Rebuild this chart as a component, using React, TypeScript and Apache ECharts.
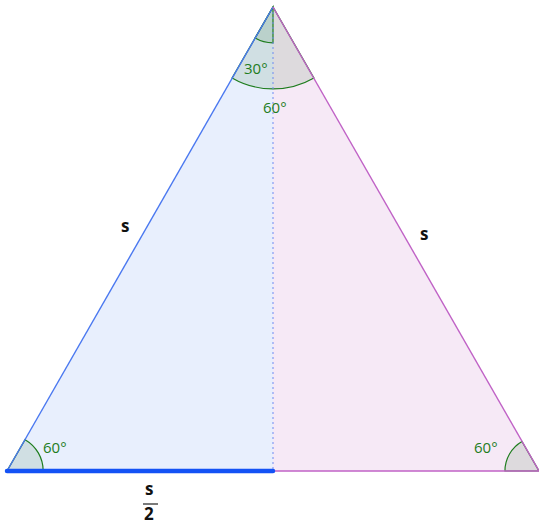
import React, { useEffect, useRef } from "react";
import * as echarts from "echarts";

// Triangle vertices in data units (side s = 2)
const apex = [0, 1.732];
const baseLeft = [-1, 0];
const baseRight = [1, 0];
const foot = [0, 0];

// Angle marks: centres, radii (data units), start/end angles (deg, screen coordinates)
const angleCenters = [apex, apex, baseLeft, baseRight];
const angleRadii = [0.308, 0.135, 0.136, 0.128];
const angleStart = [60, 90, 300, 180];
const angleEnd = [120, 120, 360, 240];

// Labels
const angleLabels = ["60°", "30°", "60°", "60°"];
const sideLabel = "s";
const halfLabelTop = "s";
const halfLabelBottom = "2";

const GREEN = "#1e7d1e";
const ARC_FILL = "rgba(0,90,0,0.1)";

export default function App() {
  const ref = useRef<HTMLDivElement>(null);
  useEffect(() => {
    if (!ref.current) return;
    const chart = echarts.init(ref.current, null, { renderer: "svg" });
    const font = "'Open Sans', 'DejaVu Sans', sans-serif";
    chart.setOption({
      animation: false,
      grid: { left: 7, right: 0, top: 7, bottom: 58, containLabel: false },
      xAxis: { type: "value", min: -1, max: 1, show: false },
      yAxis: { type: "value", min: 0, max: 1.732, show: false },
      series: [
        {
          type: "custom",
          coordinateSystem: "cartesian2d",
          data: [[0, 0]],
          clip: false,
          z: 1,
          renderItem: (params: any, api: any) => {
            const A = api.coord(apex);
            const L = api.coord(baseLeft);
            const R = api.coord(baseRight);
            const F = api.coord(foot);
            const children: any[] = [];
            children.push({
              type: "polygon",
              shape: { points: [A, L, F] },
              style: { fill: "#e8effd", stroke: "none" },
            });
            children.push({
              type: "polygon",
              shape: { points: [A, F, R] },
              style: { fill: "#f6e9f6", stroke: "none" },
            });
            angleCenters.forEach((c, i) => {
              const p = api.coord(c);
              const r = api.size([angleRadii[i], 0])[0];
              children.push({
                type: "sector",
                shape: {
                  cx: p[0],
                  cy: p[1],
                  r0: 0,
                  r,
                  startAngle: (angleStart[i] * Math.PI) / 180,
                  endAngle: (angleEnd[i] * Math.PI) / 180,
                  clockwise: true,
                },
                style: { fill: ARC_FILL, stroke: GREEN, lineWidth: 1.2 },
              });
            });
            children.push({
              type: "line",
              shape: { x1: A[0], y1: A[1], x2: F[0], y2: F[1] },
              style: { stroke: "#6f8bf0", lineWidth: 1, lineDash: [2, 3] },
            });
            children.push({
              type: "line",
              shape: { x1: A[0], y1: A[1], x2: L[0], y2: L[1] },
              style: { stroke: "#4a78f0", lineWidth: 1.4 },
            });
            children.push({
              type: "line",
              shape: { x1: A[0], y1: A[1], x2: R[0], y2: R[1] },
              style: { stroke: "#c062c6", lineWidth: 1.4 },
            });
            children.push({
              type: "line",
              shape: { x1: F[0], y1: F[1], x2: R[0], y2: R[1] },
              style: { stroke: "#c062c6", lineWidth: 1.4 },
            });
            children.push({
              type: "line",
              shape: { x1: L[0], y1: L[1], x2: F[0], y2: F[1] },
              style: { stroke: "#1452f5", lineWidth: 4.5, lineCap: "round" },
            });
            return { type: "group", children };
          },
        },
      ],
      graphic: [
        { type: "text", z: 100, left: 263, top: 99, style: { text: angleLabels[0], fill: GREEN, font: `15px ${font}` } },
        { type: "text", z: 100, left: 244, top: 60, style: { text: angleLabels[1], fill: GREEN, font: `15px ${font}` } },
        { type: "text", z: 100, left: 43, top: 439, style: { text: angleLabels[2], fill: GREEN, font: `15px ${font}` } },
        { type: "text", z: 100, left: 474, top: 439, style: { text: angleLabels[3], fill: GREEN, font: `15px ${font}` } },
        { type: "text", z: 100, left: 121, top: 217, style: { text: sideLabel, fill: "#111", font: `bold 17px ${font}` } },
        { type: "text", z: 100, left: 420, top: 225, style: { text: sideLabel, fill: "#111", font: `bold 17px ${font}` } },
        { type: "text", z: 100, left: 145, top: 480, style: { text: halfLabelTop, fill: "#111", font: `bold 17px ${font}` } },
        { type: "line", z: 100, shape: { x1: 143, y1: 504, x2: 158, y2: 504 }, style: { stroke: "#222", lineWidth: 1.2 } },
        { type: "text", z: 100, left: 144, top: 505, style: { text: halfLabelBottom, fill: "#111", font: `bold 17px ${font}` } },
      ],
    });
    return () => chart.dispose();
  }, []);
  return (
    <div
      ref={ref}
      style={{ position: "fixed", left: 0, top: 0, width: 539, height: 529, background: "#fff" }}
    />
  );
}
